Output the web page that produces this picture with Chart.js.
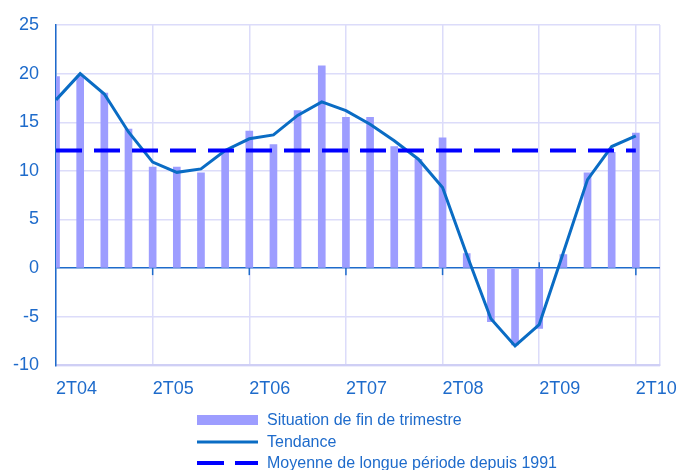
<!DOCTYPE html>
<html><head><meta charset="utf-8">
<script src="https://cdn.jsdelivr.net/npm/chart.js@4/dist/chart.umd.min.js"></script>
<style>
html,body{margin:0;padding:0;background:#fff;}
#wrap{position:relative;width:679px;height:470px;}
#legend{position:absolute;left:197px;top:409px;font:16px "Liberation Sans",Arial,sans-serif;color:#1E6BCB;}
.row{display:flex;align-items:center;height:21.7px;white-space:nowrap;}
.row svg{width:61px;height:12px;margin-right:9px;flex:none;}
</style></head><body>
<div id="wrap"><canvas id="c" width="679" height="470"></canvas><div id="legend"></div></div>
<script>
// ---- data ----
const quarters = ['2T04','3T04','4T04','1T05','2T05','3T05','4T05','1T06','2T06','3T06','4T06','1T07',
                  '2T07','3T07','4T07','1T08','2T08','3T08','4T08','1T09','2T09','3T09','4T09','1T10','2T10'];
const situation = [19.7,19.8,18.0,14.3,10.4,10.4,9.8,11.9,14.1,12.7,16.2,20.8,
                   15.5,15.5,12.5,11.2,13.4,1.5,-5.5,-7.9,-6.2,1.4,9.8,11.9,13.9];
const tendance  = [17.3,20.0,17.9,14.0,10.9,9.85,10.2,12.1,13.3,13.7,15.7,17.1,
                   16.2,14.8,13.1,11.2,8.3,1.4,-5.2,-8.0,-5.8,1.6,9.1,12.5,13.6];
const moyenneLongue = 12.1;
const xTickLabels = ['2T04','2T05','2T06','2T07','2T08','2T09','2T10'];
const seriesNames = ['Situation de fin de trimestre','Tendance','Moyenne de longue période depuis 1991'];

// ---- styles ----
const TXT = '#1E6BCB', GRID = '#DCDCFA', BAR = '#9D9DFF', TREND = '#0A6CC4', AVG = '#0000FF', AXIS = '#1E6BCB';
const FONT = '"Liberation Sans", Arial, sans-serif';

const pts = arr => arr.map((v, i) => ({x: i, y: v}));
const labelIdx = xTickLabels.map(l => quarters.indexOf(l));
const xMax = quarters.length;

const zeroTicks = {
  id: 'zeroTicks',
  beforeDatasetsDraw(chart) {
    const {ctx, scales: {x, y}} = chart;
    const y0 = y.getPixelForValue(0);
    ctx.save();
    ctx.strokeStyle = AXIS; ctx.lineWidth = 1.5;
    labelIdx.forEach(i => {
      if (i <= 0) return;
      const px = x.getPixelForValue(i);
      ctx.beginPath(); ctx.moveTo(px, y0 - 6); ctx.lineTo(px, y0 + 7); ctx.stroke();
    });
    ctx.restore();
  }
};

new Chart(document.getElementById('c'), {
  type: 'bar',
  data: {
    datasets: [
      {type: 'line', label: seriesNames[2], data: [{x: 0, y: moyenneLongue}, {x: quarters.length - 1, y: moyenneLongue}],
       borderColor: AVG, borderWidth: 4, borderDash: [26, 12], pointRadius: 0, order: 0, clip: 4},
      {type: 'line', label: seriesNames[1], data: pts(tendance), borderColor: TREND, borderWidth: 3,
       pointRadius: 0, tension: 0, order: 1, clip: 4},
      {type: 'bar', label: seriesNames[0], data: pts(situation), backgroundColor: BAR, borderWidth: 0,
       barThickness: 7, order: 2}
    ]
  },
  options: {
    responsive: false, animation: false, devicePixelRatio: 1,
    layout: {padding: {left: 13, top: 25, right: 19, bottom: 57}},
    plugins: {legend: {display: false}, tooltip: {enabled: false}},
    scales: {
      x: {
        type: 'linear', min: 0, max: xMax, offset: false,
        afterBuildTicks: s => { s.ticks = labelIdx.concat([xMax]).map(v => ({value: v})); },
        ticks: {
          autoSkip: false, maxRotation: 0, align: 'start', padding: 13, color: TXT,
          font: {family: FONT, size: 18},
          callback: v => { const k = labelIdx.indexOf(v); return k >= 0 ? xTickLabels[k] : ''; }
        },
        grid: {color: GRID, lineWidth: 1.5, drawTicks: false, offset: false},
        border: {color: '#CFCFF5', width: 2}
      },
      y: {
        min: -10, max: 25,
        ticks: {stepSize: 5, padding: 0, color: TXT, font: {family: FONT, size: 18}},
        grid: {drawTicks: true, tickLength: 17, tickColor: 'rgba(0,0,0,0)',
               color: c => (c.tick && c.tick.value === 0) ? AXIS : GRID,
               lineWidth: 1.5},
        border: {color: AXIS, width: 1.5}
      }
    }
  },
  plugins: [zeroTicks]
});

// ---- legend (HTML, built from the series names/styles) ----
const legendItems = [
  {name: seriesNames[0], svg: `<rect x="0" y="1" width="61" height="10" fill="${BAR}"/>`},
  {name: seriesNames[1], svg: `<line x1="0" y1="6" x2="61" y2="6" stroke="${TREND}" stroke-width="3"/>`},
  {name: seriesNames[2], svg: `<line x1="0" y1="6" x2="61" y2="6" stroke="${AVG}" stroke-width="4" stroke-dasharray="27 11"/>`}
];
document.getElementById('legend').innerHTML = legendItems.map(it =>
  `<div class="row"><svg viewBox="0 0 61 12">${it.svg}</svg><span>${it.name}</span></div>`).join('');
</script>
</body></html>
